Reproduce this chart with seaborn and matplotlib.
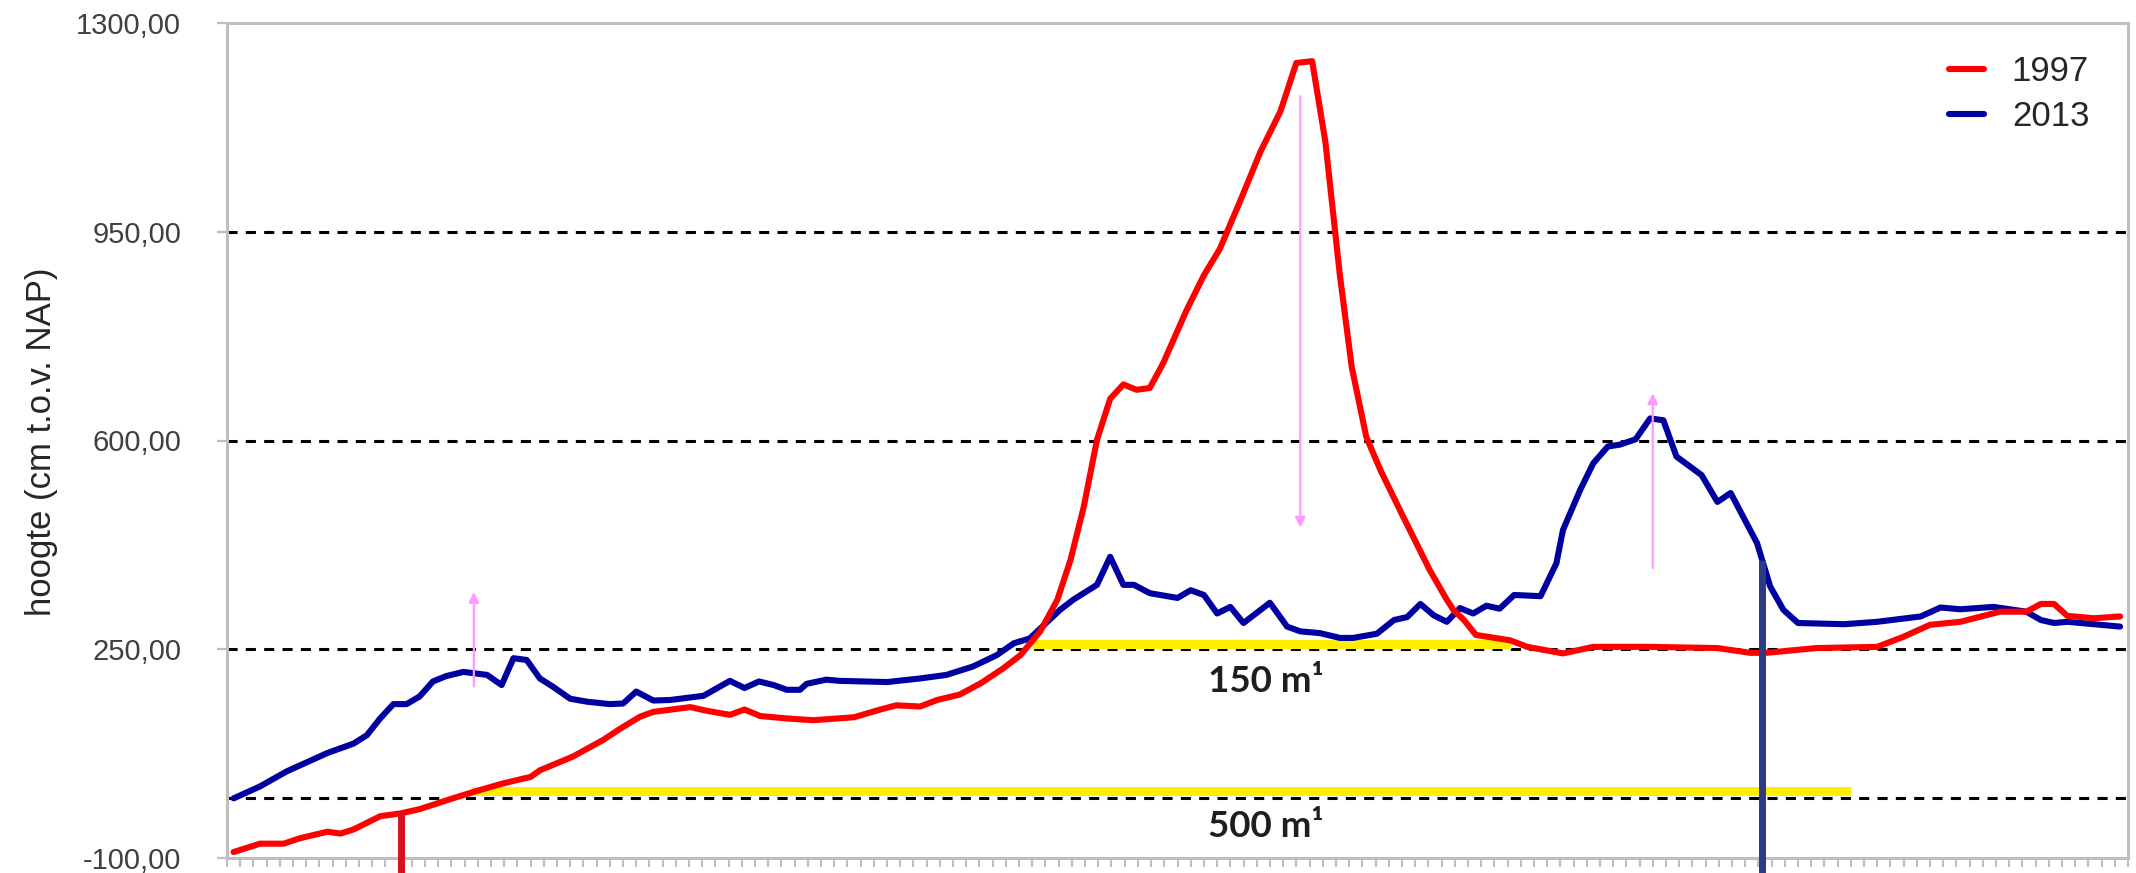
import matplotlib
matplotlib.use("Agg")
import matplotlib.pyplot as plt
import seaborn as sns
import pandas as pd

# positie langs de raai (in tick-eenheden) en hoogte in cm t.o.v. NAP
pos_1997 = [0.5, 2.5, 4.3, 5.5, 7.6, 8.6, 9.6, 11.6, 13.2, 14.6, 17.1, 18.7, 20.9, 23.0, 23.7,
            26.2, 28.5, 29.8, 31.3, 32.3, 35.1, 36.3, 38.1, 39.2, 40.4, 42.4, 44.4, 47.5, 49.5,
            50.7, 52.5, 53.8, 55.5, 57.1, 58.8, 60.1, 61.6, 62.9, 63.9, 64.9, 65.9, 66.9, 67.9,
            68.9, 69.9, 70.9, 72.7, 74.0, 75.2, 76.7, 78.3, 79.8, 81.0, 82.2, 83.2, 83.8, 84.3,
            85.2, 86.3, 87.4, 89.1, 91.1, 92.4, 92.9, 93.7, 94.6, 97.2, 98.5, 101.2, 103.5,
            107.8, 112.9, 115.4, 116.6, 120.4, 125.0, 127.0, 129.0, 131.3, 134.3, 136.3, 137.4,
            138.4, 139.4, 141.4, 143.4]
hoogte_1997 = [-90, -76, -76, -67, -56, -59, -52, -30, -25, -18, 0, 11, 25, 36, 47,
               70, 98, 117, 137, 145, 153, 147, 140, 149, 138, 134, 131, 136, 149,
               156, 154, 165, 174, 193, 218, 240, 280, 333, 400, 489, 601, 670, 694,
               685, 688, 729, 819, 877, 921, 999, 1085, 1152, 1233, 1236, 1101, 979, 877,
               723, 606, 549, 472, 383, 333, 316, 299, 274, 265, 254, 243, 254,
               254, 252, 244, 244, 252, 254, 271, 291, 296, 313, 313, 326,
               326, 306, 302, 305]

pos_2013 = [0.5, 2.5, 4.5, 7.6, 9.6, 10.6, 11.6, 12.6, 13.6, 14.6, 15.6, 16.6, 17.9, 19.7,
            20.8, 21.7, 22.7, 23.7, 24.7, 26.0, 27.3, 29.0, 30.0, 31.0, 32.3, 33.6, 36.1,
            38.1, 39.2, 40.3, 41.4, 42.4, 43.4, 43.9, 45.4, 46.4, 50.0, 52.5, 54.5, 56.5,
            58.3, 59.6, 60.8, 63.1, 64.1, 65.9, 66.9, 67.9, 68.7, 69.9, 72.0, 73.0, 74.0,
            75.0, 76.0, 77.0, 79.0, 80.3, 81.3, 82.8, 84.3, 85.3, 87.1, 88.4, 89.4, 90.4,
            91.4, 92.4, 93.4, 94.4, 95.4, 96.4, 97.5, 99.5, 100.7, 101.2, 102.5, 103.5,
            104.6, 105.5, 106.7, 107.8, 108.8, 109.8, 111.7, 112.9, 113.9, 115.9, 116.9,
            117.9, 119.0, 122.5, 125.0, 128.3, 129.8, 131.3, 133.8, 136.3, 137.4, 138.4,
            139.4, 143.4]
hoogte_2013 = [0, 20, 45, 76, 92, 106, 134, 158, 158, 171, 196, 205, 212, 207,
               190, 235, 232, 201, 187, 167, 162, 158, 159, 179, 164, 165, 172,
               197, 185, 196, 190, 182, 182, 192, 199, 197, 195, 201, 207, 221,
               240, 260, 268, 316, 333, 358, 405, 358, 358, 344, 336, 349, 341,
               310, 321, 294, 328, 288, 280, 277, 269, 269, 276, 299, 304, 326,
               307, 296, 319, 310, 323, 318, 341, 339, 394, 450, 517, 562,
               590, 593, 602, 637, 634, 573, 542, 497, 512, 428, 355,
               316, 294, 292, 296, 305, 320, 317, 321, 313, 299, 294,
               296, 288]

y_ticks = [-100, 250, 600, 950, 1300]
ref_levels = [0, 250, 600, 950]
n_ticks = 144

# gele markeringen van de breedte
band_labels = ["150 m¹", "500 m¹"]
band_start = [61.0, 18.5]
band_end = [97.3, 123.0]
band_level = [258, 12]
band_text_x = [78.7, 78.7]
band_text_y = [196, -48]

# roze pijlen: verandering tussen 1997 en 2013
arrow_x = [18.7, 81.3, 108.0]
arrow_from = [188, 1177, 386]
arrow_to = [346, 454, 679]

# verticale markeringen
marker_x = [13.2, 116.3]
marker_top = [-22, 400]
marker_colors = ["#D7121C", "#2B3A82"]

colors = {"1997": "#FF0000", "2013": "#0000A0"}

df = pd.concat([
    pd.DataFrame({"pos": pos_2013, "hoogte": hoogte_2013, "jaar": "2013"}),
    pd.DataFrame({"pos": pos_1997, "hoogte": hoogte_1997, "jaar": "1997"}),
])

sns.set_theme(style="white")
plt.rcParams["font.family"] = ["Liberation Sans", "DejaVu Sans"]

fig = plt.figure(figsize=(21.36, 8.73), dpi=100)
ax = fig.add_axes([227 / 2136, 15 / 873, 1901 / 2136, 835 / 873])

for lvl in ref_levels:
    ax.axhline(lvl, color="black", lw=2.2, linestyle=(0, (3.3, 2.7)), zorder=1)

for x0, x1, lvl in zip(band_start, band_end, band_level):
    ax.hlines(lvl, x0, x1, color="#FFEE00", lw=6.5, zorder=2)

n_before = len(ax.lines)
sns.lineplot(data=df, x="pos", y="hoogte", hue="jaar", hue_order=["2013", "1997"],
             palette=colors, errorbar=None, ax=ax, zorder=3)
for line in ax.lines[n_before:]:
    line.set_linewidth(4.4)
    line.set_solid_joinstyle("round")

for x, top, c in zip(marker_x, marker_top, marker_colors):
    ax.plot([x, x], [top, -140], color=c, lw=5, clip_on=False, zorder=4,
            solid_capstyle="butt")

for x, y0, y1 in zip(arrow_x, arrow_from, arrow_to):
    ax.annotate("", xy=(x, y1), xytext=(x, y0),
                arrowprops=dict(arrowstyle="-|>,head_length=0.5,head_width=0.25",
                                color="#FF99FF", lw=1.6, shrinkA=0, shrinkB=0),
                zorder=5)

for lab, tx, ty in zip(band_labels, band_text_x, band_text_y):
    ax.text(tx, ty, lab, ha="center", va="center", fontsize=26.5, fontweight="bold",
            color="#1E1E1E", family=["Lato", "DejaVu Sans"])

ax.set_xlim(0, n_ticks)
ax.set_ylim(-100, 1300)
ax.set_xticks(range(n_ticks + 1))
ax.set_xticklabels([])
ax.set_yticks(y_ticks)
ax.set_yticklabels([f"{v:.2f}".replace(".", ",") for v in y_ticks])
ax.tick_params(axis="y", length=7, width=1.6, color="#BFBFBF", labelsize=21,
               labelcolor="#404040", pad=26, left=True)
ax.tick_params(axis="x", length=6.5, width=1.5, color="#BFBFBF", bottom=True)
for sp in ax.spines.values():
    sp.set_color("#BFBFBF")
    sp.set_linewidth(2.2)

ax.set_xlabel("")
ax.set_ylabel("hoogte (cm t.o.v. NAP)", fontsize=25, color="#262626")
ax.yaxis.set_label_coords(-0.089, 0.499)

handles, labels = ax.get_legend_handles_labels()
order = [labels.index("1997"), labels.index("2013")]
leg = ax.legend([handles[i] for i in order], [labels[i] for i in order],
                loc="upper left", bbox_to_anchor=(0.906, 0.962), frameon=False,
                fontsize=25, handlelength=1.0, handletextpad=0.8, labelspacing=0.35,
                borderpad=0, borderaxespad=0)
for line in leg.get_lines():
    line.set_linewidth(4.4)

fig.savefig("out.png", dpi=100)
